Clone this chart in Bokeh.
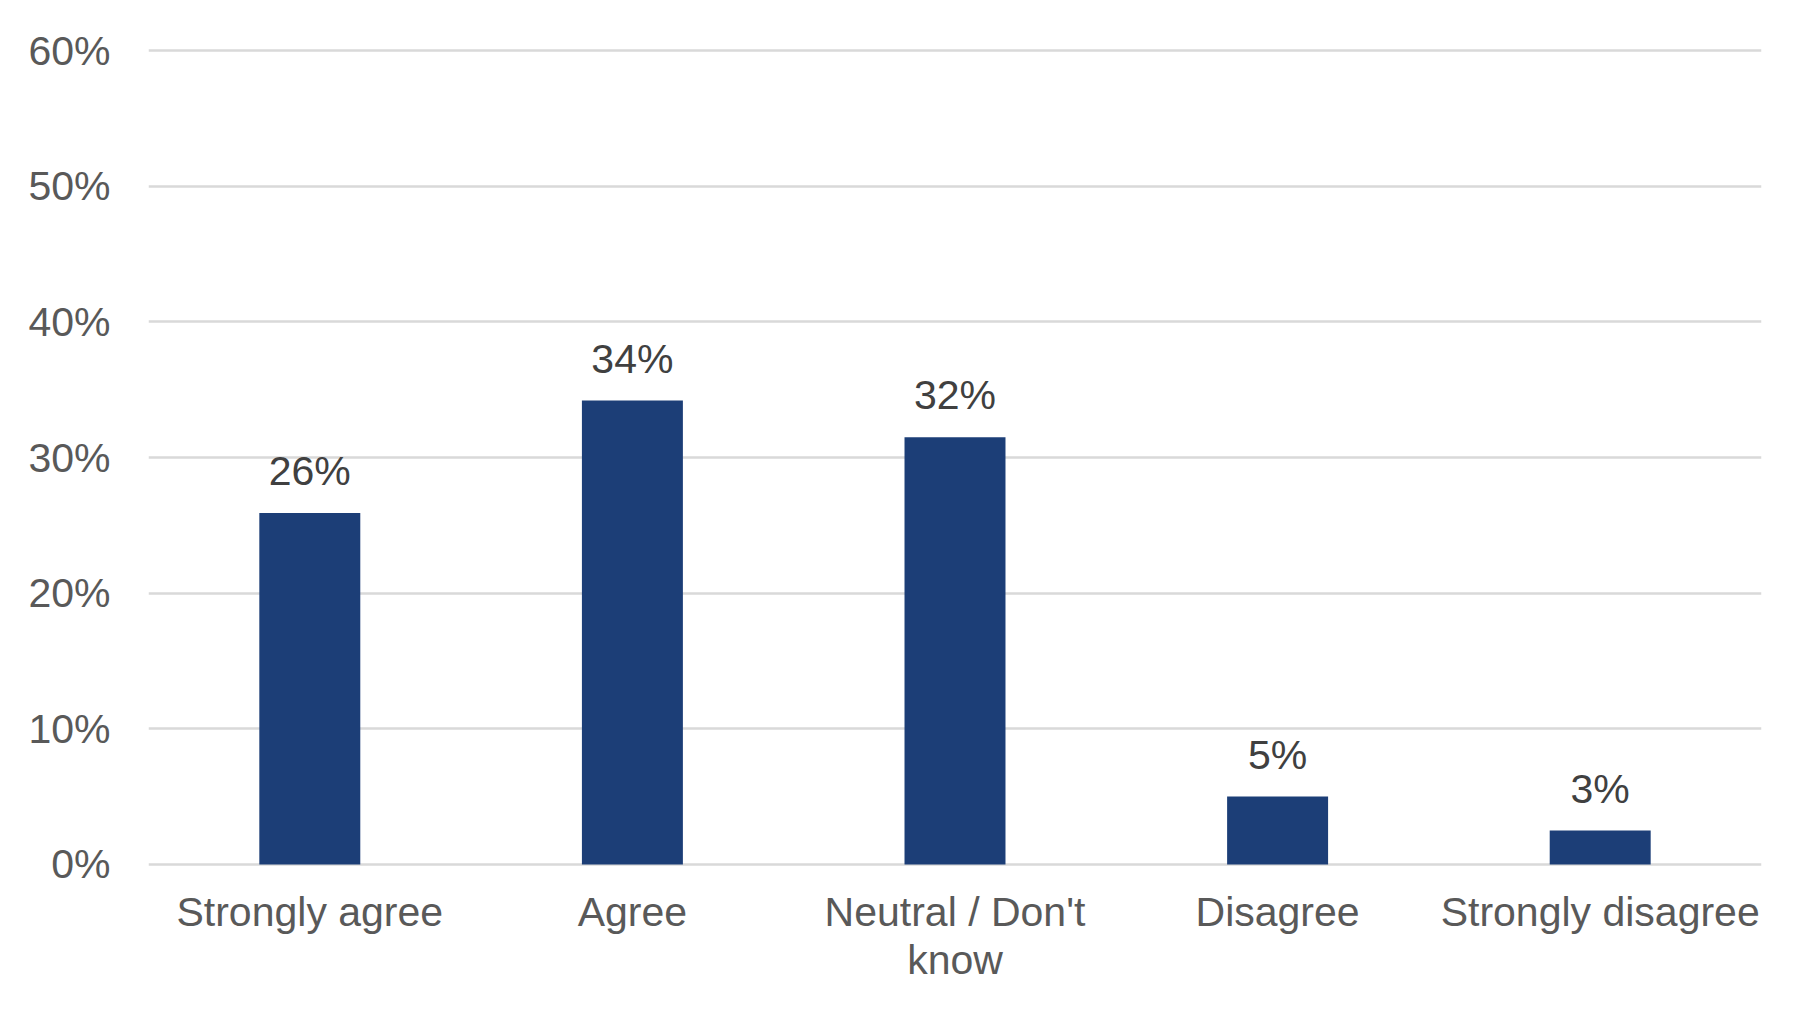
from bokeh.plotting import figure
from bokeh.models import ColumnDataSource, Range1d, FactorRange, FixedTicker
from bokeh.core.properties import value
from bokeh.embed import file_html
from bokeh.resources import INLINE

categories = ["Strongly agree", "Agree", "Neutral / Don't\nknow", "Disagree", "Strongly disagree"]
shares = [25.9, 34.2, 31.5, 5.0, 2.5]
share_labels = ["26%", "34%", "32%", "5%", "3%"]
y_ticks = [0, 10, 20, 30, 40, 50, 60]
y_tick_labels = ["0%", "10%", "20%", "30%", "40%", "50%", "60%"]

FONT = "Liberation Sans"
BAR = "#1C3E77"

src = ColumnDataSource(dict(cat=categories, val=shares, lab=share_labels))

p = figure(
    width=1803, height=1004,
    x_range=FactorRange(*categories, range_padding=0),
    y_range=Range1d(-0.3, 60.3),
    output_backend="svg", toolbar_location=None,
    min_border_left=148, min_border_right=42,
    min_border_top=46, min_border_bottom=136,
)
p.title = None
p.outline_line_color = None
p.background_fill_color = "white"
p.border_fill_color = "white"

p.vbar(x="cat", top="val", bottom=0, width=0.313, source=src,
       fill_color=BAR, line_color=None)

p.text(x="cat", y="val", text="lab", source=src,
       text_font=value(FONT), text_font_size="41px", text_color="#404040",
       text_align="center", text_baseline="alphabetic", y_offset=-42)

p.xgrid.grid_line_color = None
p.ygrid.grid_line_color = "#D9D9D9"
p.ygrid.grid_line_width = 2.5
p.ygrid.ticker = FixedTicker(ticks=y_ticks)

ya = p.yaxis[0]
ya.ticker = FixedTicker(ticks=y_ticks)
ya.major_label_overrides = {t: l for t, l in zip(y_ticks, y_tick_labels)}
ya.axis_line_color = None
ya.major_tick_line_color = None
ya.minor_tick_line_color = None
ya.major_tick_out = 0
ya.major_tick_in = 0
ya.major_label_standoff = 38
ya.major_label_text_font = FONT
ya.major_label_text_font_size = "41px"
ya.major_label_text_color = "#595959"

xa = p.xaxis[0]
xa.axis_line_color = None
xa.major_tick_line_color = None
xa.minor_tick_line_color = None
xa.major_tick_out = 0
xa.major_tick_in = 0
xa.major_label_standoff = 20
xa.major_label_text_font = FONT
xa.major_label_text_font_size = "41px"
xa.major_label_text_color = "#595959"
xa.major_label_text_line_height = 1.06

open("out.html", "w").write(file_html(p, INLINE))
